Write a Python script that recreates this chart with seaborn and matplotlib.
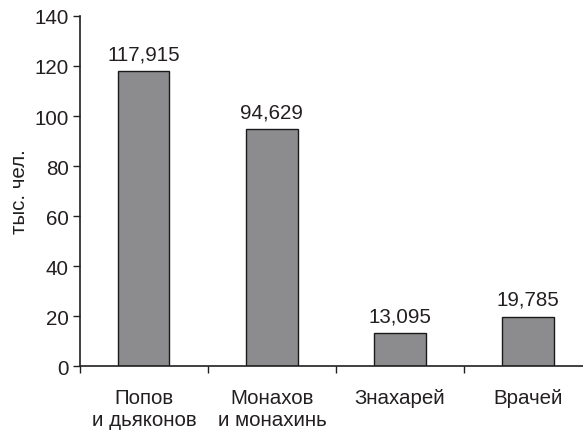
import matplotlib
matplotlib.use("Agg")
import matplotlib.pyplot as plt
import seaborn as sns
import pandas as pd
from matplotlib.ticker import FixedLocator, NullFormatter, FixedFormatter

categories = ["Попов\nи дьяконов", "Монахов\nи монахинь", "Знахарей", "Врачей"]
values = [117.915, 94.629, 13.095, 19.785]
value_labels = ["117,915", "94,629", "13,095", "19,785"]
y_ticks = [0, 20, 40, 60, 80, 100, 120, 140]

sns.set_style("ticks")
plt.rcParams["font.family"] = ["Liberation Sans", "DejaVu Sans"]
FS = 14.8
plt.rcParams["font.size"] = FS
TXT = "#231f20"

df = pd.DataFrame({"cat": categories, "val": values})

fig = plt.figure(figsize=(5.83, 4.35), dpi=100)
ax = fig.add_axes([0.137, 0.156, 0.863, 0.805])
sns.barplot(data=df, x="cat", y="val", color="#8c8c8f", edgecolor="#1a1a1a",
            linewidth=1.0, width=0.4, saturation=1, ax=ax)

ax.set_ylim(0, 140)
ax.set_xlim(-0.5, 3.43)
ax.set_yticks(y_ticks)
ax.set_yticklabels([str(t) for t in y_ticks])
ax.set_ylabel("тыс. чел.", fontsize=FS, color=TXT, labelpad=4)
ax.set_xlabel("")

n = len(categories)
ax.xaxis.set_major_locator(FixedLocator([i - 0.5 for i in range(n + 1)]))
ax.xaxis.set_major_formatter(NullFormatter())
ax.xaxis.set_minor_locator(FixedLocator(list(range(n))))
ax.xaxis.set_minor_formatter(FixedFormatter(categories))
ax.tick_params(axis="x", which="major", direction="out", length=5, width=1.0, color=TXT)
ax.tick_params(axis="x", which="minor", length=0, pad=16, labelsize=FS, labelcolor=TXT)
ax.tick_params(axis="y", direction="out", length=5, width=1.0, color=TXT,
               labelsize=FS, labelcolor=TXT, pad=3)
for lbl in ax.xaxis.get_minorticklabels():
    lbl.set_linespacing(1.2)

for s in ["top", "right"]:
    ax.spines[s].set_visible(False)
for s in ["left", "bottom"]:
    ax.spines[s].set_linewidth(1.2)
    ax.spines[s].set_color(TXT)

for i, (v, t) in enumerate(zip(values, value_labels)):
    ax.annotate(t, xy=(i, v), xytext=(0, 8.6), textcoords="offset points",
                ha="center", va="baseline", fontsize=FS, color=TXT)

fig.savefig("out.png", dpi=100)
